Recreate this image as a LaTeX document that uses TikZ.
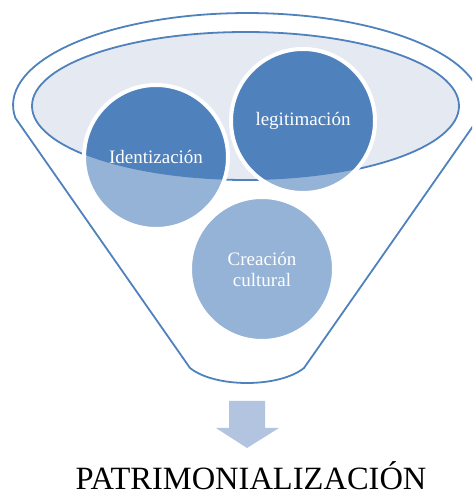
\documentclass[tikz,border=0pt]{standalone}
\usepackage{fontspec}
\setmainfont{Liberation Serif}
\definecolor{funnelblue}{HTML}{4F81BD}
\definecolor{ballpale}{HTML}{95B3D7}
\definecolor{rimfill}{HTML}{E4E9F2}
\definecolor{arrowblue}{HTML}{B3C4E0}
\tikzset{
  rimline/.style={funnelblue, line width=1.8pt},
  balltext/.style={text=white, align=center, font=\fontsize{19}{21}\selectfont},
}
\begin{document}
\begin{tikzpicture}[x=1pt,y=1pt]
  \useasboundingbox (0,0) rectangle (472,503);
  \clip (0,0) rectangle (472,503);
  % funnel outline
  \draw[rimline] (478.7,385) arc[start angle=-8.1, end angle=188.1, x radius=234, y radius=92]
    -- (190,135) .. controls (215,115) and (279,115) .. (304,135) -- cycle;
  % rim of the funnel
  \draw[rimline, fill=rimfill] (245.5,397) ellipse[x radius=213.5, y radius=74];
  % balls
  \coordinate (identc) at (156,346);
  \coordinate (legitc) at (303,382);
  \coordinate (creac) at (262,234);
  \foreach \c in {identc,legitc,creac}
    \fill[ballpale] (\c) circle[radius=72];
  \begin{scope}
    \clip (245.5,397) ellipse[x radius=213.5, y radius=74];
    \foreach \c in {identc,legitc}
      \fill[funnelblue] (\c) circle[radius=72];
  \end{scope}
  \foreach \c in {identc,legitc,creac}
    \draw[white, line width=4pt] (\c) circle[radius=72];
  \node[balltext] (ident) at (identc) {Identización};
  \node[balltext] (legit) at (legitc) {legitimación};
  \node[balltext] (crea) at (creac) {Creación\\cultural};
  % arrow and result
  \fill[arrowblue] (229,102) -- (265,102) -- (265,75) -- (279,75) -- (247,55) -- (216,75) -- (229,75) -- cycle;
  \node[anchor=base, font=\fontsize{32.5}{38}\selectfont] (result) at (251,13) {PATRIMONIALIZACIÓN};
\end{tikzpicture}
\end{document}
